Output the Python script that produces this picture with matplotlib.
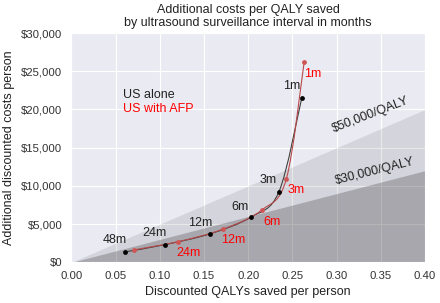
"""Additional costs per QALY saved by ultrasound surveillance interval."""

import matplotlib

matplotlib.use("Agg")
import matplotlib.pyplot as plt
import numpy as np
import seaborn as sns
from matplotlib.patches import PathPatch
from matplotlib.path import Path
from matplotlib.ticker import FuncFormatter

# surveillance intervals, longest to shortest
INTERVALS = ["48m", "24m", "12m", "6m", "3m", "1m"]

# US alone
US_QALY = [0.0606, 0.1058, 0.1570, 0.2028, 0.2348, 0.2607]
US_COST = [1370, 2320, 3740, 5900, 9240, 21560]

# US with AFP
AFP_QALY = [0.0704, 0.1208, 0.1716, 0.2152, 0.2431, 0.2634]
AFP_COST = [1630, 2710, 4350, 6830, 10900, 26260]

# willingness-to-pay thresholds ($/QALY)
THRESHOLDS = [30000, 50000]

X_TICKS = [0.00, 0.05, 0.10, 0.15, 0.20, 0.25, 0.30, 0.35, 0.40]
Y_TICKS = [0, 5000, 10000, 15000, 20000, 25000, 30000]

XMAX, YMAX = 0.40, 30000


def smooth_path(xs, ys):
    """Bezier path through the points (Catmull-Rom tangents, axes-scaled)."""
    p = np.column_stack([np.asarray(xs) / XMAX, np.asarray(ys) / YMAX])
    verts = [p[0]]
    codes = [Path.MOVETO]
    n = len(p)
    for i in range(n - 1):
        p0 = p[max(i - 1, 0)]
        p3 = p[min(i + 2, n - 1)]
        c1 = p[i] + (p[i + 1] - p0) / 6
        c2 = p[i + 1] - (p3 - p[i]) / 6
        verts += [c1, c2, p[i + 1]]
        codes += [Path.CURVE4] * 3
    verts = np.array(verts) * [XMAX, YMAX]
    return Path(verts, codes)


sns.set_style("darkgrid")
plt.rcParams["font.family"] = ["Liberation Sans", "DejaVu Sans"]

fig = plt.figure(figsize=(4.4, 3.03), dpi=100)
ax = fig.add_axes([0.162, 0.134, 0.804, 0.757])

xs = np.array([0.0, XMAX])
ax.fill_between(xs, 0, xs * THRESHOLDS[1], color="black", alpha=0.09, lw=0, zorder=1)
ax.fill_between(xs, 0, xs * THRESHOLDS[0], color="black", alpha=0.21, lw=0, zorder=1)

ax.add_patch(PathPatch(smooth_path(US_QALY, US_COST), fc="none", ec="#404040", lw=0.8, zorder=3))
ax.add_patch(PathPatch(smooth_path(AFP_QALY, AFP_COST), fc="none", ec="#b84a4a", lw=0.8, zorder=3))
ax.scatter(US_QALY, US_COST, s=12, color="black", zorder=4, lw=0)
ax.scatter(AFP_QALY, AFP_COST, s=12, color="#d05555", zorder=4, lw=0)

# interval labels (offsets in data units)
us_off = [(-0.012, 1570), (-0.012, 1570), (-0.011, 1460), (-0.012, 1390), (-0.012, 1530), (-0.012, 1510)]
afp_off = [None, (0.012, -1430), (0.012, -1410), (0.012, -1500), (0.011, -1440), (0.010, -1570)]
for lab, x, y, off in zip(INTERVALS, US_QALY, US_COST, us_off):
    ax.text(x + off[0], y + off[1], lab, color="#222222", fontsize=9,
            ha="center", va="center", zorder=5)
for lab, x, y, off in zip(INTERVALS, AFP_QALY, AFP_COST, afp_off):
    if off is None:
        continue
    ax.text(x + off[0], y + off[1], lab, color="red", fontsize=9,
            ha="center", va="center", zorder=5)

ax.text(0.059, 21900, "US alone", color="#222222", fontsize=9, va="center")
ax.text(0.059, 20000, "US with AFP", color="red", fontsize=9, va="center")

ax.text(0.339, 19250, "$50,000/QALY", fontsize=9, color="#222222",
        ha="center", va="center", rotation=21, zorder=5)
ax.text(0.343, 11850, "$30,000/QALY", fontsize=9, color="#222222",
        ha="center", va="center", rotation=14, zorder=5)

ax.set_xlim(0, XMAX)
ax.set_ylim(0, YMAX)
ax.set_xticks(X_TICKS)
ax.set_yticks(Y_TICKS)
ax.xaxis.set_major_formatter(FuncFormatter(lambda v, _: f"{v:.2f}"))
ax.yaxis.set_major_formatter(FuncFormatter(lambda v, _: f"${v:,.0f}"))
ax.tick_params(labelsize=8.2, colors="#333333", pad=3)
ax.set_xlabel("Discounted QALYs saved per person", fontsize=9, color="#222222", labelpad=3)
ax.set_ylabel("Additional discounted costs person", fontsize=9, color="#222222", labelpad=4)
ax.set_title("Additional costs per QALY saved\nby ultrasound surveillance interval in months",
             fontsize=9, color="#222222", pad=5, linespacing=1.15)

fig.savefig("out.png", dpi=100)
